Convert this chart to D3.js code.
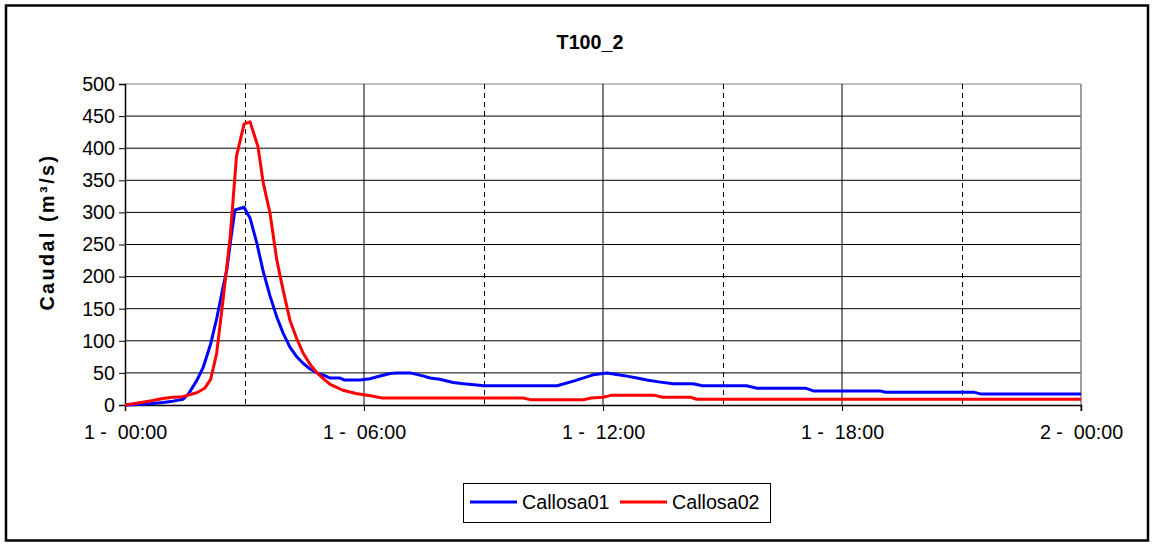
<!DOCTYPE html>
<html>
<head>
<meta charset="utf-8">
<script src="https://cdn.jsdelivr.net/npm/d3@7"></script>
<style>
  html, body { margin: 0; padding: 0; background: #fff; }
  svg { display: block; font-family: "Liberation Sans", Arial, sans-serif; }
</style>
</head>
<body>
<svg id="chart" width="1154" height="544"></svg>
<script>
// ---- data (hours since 1 - 00:00, caudal m3/s) ----
const title = "T100_2";
const yLabel = "Caudal (m³/s)";
const seriesNames = ["Callosa01", "Callosa02"];
const seriesColors = ["#0000FF", "#FF0000"];

const c1Hours = [0,0.5,0.95,1.2,1.46,1.6,1.8,1.96,2.15,2.31,2.45,2.56,2.66,2.76,2.99,3.14,3.31,3.47,3.64,3.81,3.97,4.14,4.3,4.47,4.65,4.82,5.0,5.15,5.4,5.5,5.9,6.15,6.33,6.66,6.83,7.16,7.5,7.66,7.9,8.24,8.5,8.83,9.0,10.85,11.3,11.75,12.1,12.3,12.6,12.85,13.1,13.4,13.76,14.26,14.5,15.6,15.87,17.1,17.28,18.95,19.1,21.3,21.5,24];
const c1Values = [0,1,4,6,9,18,38,58,95,137,180,212,260,304,308,291,252,208,170,137,112,90,76,65,56,50,46,42,42,39,39,41,44,49,50,50,45,42,40,35,33,31,30,30,38,47,50,48,45,42,39,36,33,33,30,30,26,26,22,22,20,20,17,17];

const c2Hours = [0,0.4,0.7,0.95,1.2,1.45,1.8,2.0,2.15,2.3,2.47,2.64,2.8,2.99,3.14,3.34,3.47,3.64,3.81,3.97,4.14,4.3,4.47,4.65,4.82,5.0,5.15,5.3,5.47,5.8,6.0,6.2,6.45,10.0,10.2,11.5,11.7,12.0,12.2,13.3,13.5,14.2,14.35,24];
const c2Values = [0,4,7,10,12,13,19,26,40,80,168,262,388,438,441,402,346,299,226,179,132,105,81,63,50,40,32,28,23,18,16,14,11,11,8,8,11,12,15,15,12,12,9,9];

const yTicks = [0,50,100,150,200,250,300,350,400,450,500];
const xMajorTicks = [0,6,12,18,24];
const xMajorLabels = ["1 -  00:00","1 -  06:00","1 -  12:00","1 -  18:00","2 -  00:00"];
const xMinorGrid = [3,9,15,21];

// ---- layout ----
const svg = d3.select("#chart");
const L = 125, R = 1081, T = 84, B = 405;
const x = d3.scaleLinear().domain([0,24]).range([L,R]);
const y = d3.scaleLinear().domain([0,500]).range([B,T]);
const fs = 19.7;

// outer border
svg.append("rect").attr("x",6).attr("y",5.5).attr("width",1142).attr("height",535)
  .attr("fill","#fff").attr("stroke","#000").attr("stroke-width",2.5);

// horizontal gridlines
svg.append("g").selectAll("line").data(yTicks.filter(d=>d>0)).join("line")
  .attr("x1",L).attr("x2",R).attr("y1",d=>y(d)).attr("y2",d=>y(d))
  .attr("stroke", d=> d===500 ? "#808080" : "#000").attr("stroke-width",1);

// vertical major gridlines
svg.append("g").selectAll("line").data(xMajorTicks.filter(d=>d>0 && d<24)).join("line")
  .attr("x1",d=>x(d)).attr("x2",d=>x(d)).attr("y1",T).attr("y2",B)
  .attr("stroke","#000").attr("stroke-width",1);
// minor dashed gridlines
svg.append("g").selectAll("line").data(xMinorGrid).join("line")
  .attr("x1",d=>Math.round(x(d))+0.5).attr("x2",d=>Math.round(x(d))+0.5).attr("y1",T).attr("y2",B)
  .attr("stroke","#000").attr("stroke-width",1).attr("stroke-dasharray","5,4");
// right border of plot area
svg.append("line").attr("x1",R).attr("x2",R).attr("y1",T).attr("y2",B+6)
  .attr("stroke","#808080").attr("stroke-width",1.5);

// y axis
const yAxis = d3.axisLeft(y).tickValues(yTicks).tickSize(6).tickPadding(4);
const gy = svg.append("g").attr("transform",`translate(${L},0)`).call(yAxis);
gy.select(".domain").attr("stroke","#000").attr("stroke-width",1.5);
gy.selectAll(".tick line").attr("stroke","#000");
gy.selectAll("text").attr("font-size",fs).attr("fill","#000")
  .attr("font-family","Liberation Sans, Arial, sans-serif");

// x axis
const xAxis = d3.axisBottom(x).tickValues(xMajorTicks).tickSize(6).tickPadding(14)
  .tickFormat((d,i)=>xMajorLabels[i]);
const gx = svg.append("g").attr("transform",`translate(0,${B})`).call(xAxis);
gx.select(".domain").attr("stroke","#000").attr("stroke-width",1.5);
gx.selectAll(".tick line").attr("stroke","#000");
gx.selectAll("text").attr("font-size",fs).attr("fill","#000")
  .attr("font-family","Liberation Sans, Arial, sans-serif")
  .style("white-space","pre").attr("xml:space","preserve");

// lines
const series = [
  {hours:c1Hours, values:c1Values},
  {hours:c2Hours, values:c2Values}
];
const line = d3.line().x(d=>x(d[0])).y(d=>y(d[1]));
series.forEach((s,i)=>{
  const pts = s.hours.map((h,j)=>[h, s.values[j]]);
  svg.append("path").datum(pts).attr("d",line).attr("fill","none")
    .attr("stroke",seriesColors[i]).attr("stroke-width",3).attr("stroke-linejoin","round");
});

// title
svg.append("text").attr("x",590).attr("y",49).attr("text-anchor","middle")
  .attr("font-size",fs).attr("font-weight","bold").text(title);

// y label
svg.append("text").attr("transform","translate(54,232) rotate(-90)")
  .attr("text-anchor","middle").attr("font-size",fs).attr("font-weight","bold")
  .attr("letter-spacing",2.5).text(yLabel);

// legend
const lg = svg.append("g");
lg.append("rect").attr("x",463.5).attr("y",483.5).attr("width",307).attr("height",39)
  .attr("fill","#fff").attr("stroke","#000").attr("stroke-width",1);
const legX = [470, 620];
seriesNames.forEach((n,i)=>{
  lg.append("line").attr("x1",legX[i]).attr("x2",legX[i]+47).attr("y1",502).attr("y2",502)
    .attr("stroke",seriesColors[i]).attr("stroke-width",3);
  lg.append("text").attr("x",legX[i]+52).attr("y",509).attr("font-size",fs).text(n);
});
</script>
</body>
</html>
